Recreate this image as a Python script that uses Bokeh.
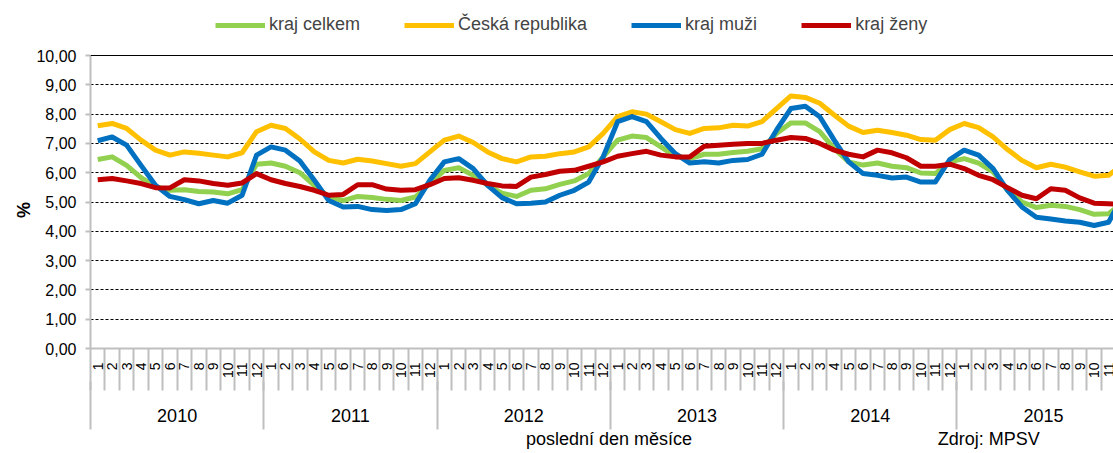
import math
from bokeh.plotting import figure
from bokeh.models import (Range1d, FixedTicker, LinearAxis, Legend, LegendItem, Span, Grid)
from bokeh.embed import file_html
from bokeh.resources import INLINE

years = ["2010", "2011", "2012", "2013", "2014", "2015"]
months = [str(m) for m in range(1, 13)]

ceska_republika = [
    7.60, 7.68, 7.51, 7.11, 6.77, 6.60, 6.71, 6.66, 6.60, 6.54, 6.68, 7.40,
    7.62, 7.51, 7.15, 6.71, 6.42, 6.33, 6.46, 6.40, 6.31, 6.22, 6.31, 6.71,
    7.11, 7.25, 7.03, 6.71, 6.48, 6.37, 6.54, 6.56, 6.65, 6.71, 6.88, 7.34,
    7.91, 8.08, 8.00, 7.74, 7.47, 7.34, 7.51, 7.53, 7.62, 7.59, 7.74, 8.19,
    8.62, 8.57, 8.37, 7.97, 7.59, 7.37, 7.45, 7.37, 7.28, 7.13, 7.11, 7.47,
    7.68, 7.54, 7.22, 6.79, 6.42, 6.17, 6.29, 6.19, 6.03, 5.88, 5.91, 6.30,
]
kraj_muzi = [
    7.09, 7.22, 6.94, 6.25, 5.57, 5.19, 5.08, 4.94, 5.05, 4.96, 5.23, 6.60,
    6.88, 6.77, 6.40, 5.74, 5.05, 4.83, 4.85, 4.74, 4.71, 4.74, 4.94, 5.74,
    6.37, 6.48, 6.14, 5.57, 5.15, 4.94, 4.96, 5.00, 5.23, 5.40, 5.68, 6.54,
    7.74, 7.91, 7.74, 7.17, 6.65, 6.33, 6.37, 6.33, 6.42, 6.45, 6.63, 7.45,
    8.19, 8.27, 7.91, 7.11, 6.37, 5.97, 5.91, 5.82, 5.85, 5.68, 5.68, 6.45,
    6.77, 6.60, 6.14, 5.40, 4.83, 4.48, 4.42, 4.35, 4.31, 4.20, 4.31, 5.20,
]
kraj_celkem = [
    6.45, 6.54, 6.25, 5.83, 5.51, 5.40, 5.42, 5.36, 5.34, 5.28, 5.42, 6.29,
    6.33, 6.22, 6.00, 5.57, 5.17, 5.05, 5.19, 5.15, 5.09, 5.05, 5.17, 5.63,
    6.08, 6.17, 5.91, 5.57, 5.30, 5.19, 5.40, 5.45, 5.60, 5.72, 5.97, 6.54,
    7.11, 7.25, 7.20, 6.88, 6.56, 6.48, 6.63, 6.63, 6.69, 6.73, 6.82, 7.34,
    7.70, 7.70, 7.40, 6.82, 6.37, 6.26, 6.33, 6.22, 6.17, 5.99, 5.97, 6.37,
    6.48, 6.33, 6.03, 5.40, 5.00, 4.81, 4.89, 4.85, 4.74, 4.58, 4.60, 5.00,
]
kraj_zeny = [
    5.76, 5.80, 5.72, 5.63, 5.49, 5.48, 5.76, 5.72, 5.63, 5.57, 5.65, 5.97,
    5.76, 5.63, 5.53, 5.40, 5.23, 5.26, 5.59, 5.59, 5.44, 5.40, 5.42, 5.59,
    5.80, 5.83, 5.74, 5.63, 5.55, 5.53, 5.85, 5.94, 6.05, 6.08, 6.22, 6.37,
    6.56, 6.65, 6.73, 6.60, 6.54, 6.54, 6.90, 6.94, 6.97, 7.00, 7.00, 7.11,
    7.20, 7.17, 7.00, 6.77, 6.63, 6.54, 6.77, 6.68, 6.51, 6.22, 6.22, 6.29,
    6.14, 5.91, 5.76, 5.49, 5.23, 5.11, 5.45, 5.40, 5.14, 4.96, 4.94, 4.92,
]

y_ticks = list(range(0, 11))
y_tick_labels = [f"{v},00" for v in y_ticks]
y_title = "%"

series_names = ["kraj celkem", "Česká republika", "kraj muži", "kraj ženy"]
series_values = [kraj_celkem, ceska_republika, kraj_muzi, kraj_zeny]
series_colors = ["#92D050", "#FFC000", "#0070C0", "#C00000"]

x_title = "poslední den měsíce"
source_note = "Zdroj: MPSV"

FONT = "Liberation Sans"
GRAY = "#bfbfbf"

n = len(years) * len(months)
xs = [i + 0.5 for i in range(n)]

PX_PER_UNIT = 29.3
FRAME_H = 336
p = figure(frame_width=1023, frame_height=FRAME_H,
           x_range=Range1d(0, 70.84), y_range=Range1d(0, FRAME_H / PX_PER_UNIT),
           x_axis_type=None, y_axis_type=None,
           output_backend="svg", toolbar_location=None,
           min_border_left=82, min_border_top=12, min_border_right=0, min_border_bottom=10)
p.outline_line_color = None
p.background_fill_color = "white"
p.border_fill_color = "white"

# y axis
yaxis = LinearAxis(ticker=FixedTicker(ticks=y_ticks), bounds=(y_ticks[0], y_ticks[-1]),
                   major_label_overrides={v: l for v, l in zip(y_ticks, y_tick_labels)})
yaxis.axis_line_color = GRAY
yaxis.axis_line_width = 2
yaxis.major_tick_line_color = GRAY
yaxis.major_tick_line_width = 2
yaxis.major_tick_out = 5
yaxis.major_tick_in = 0
yaxis.minor_tick_line_color = None
yaxis.minor_tick_out = 0
yaxis.major_label_standoff = 9
yaxis.major_label_text_font = FONT
yaxis.major_label_text_font_size = "16px"
yaxis.major_label_text_color = "black"
p.add_layout(yaxis, "left")

# "%" title centred on the 0..10 span
mid = (y_ticks[0] + y_ticks[-1]) / 2
pct_axis = LinearAxis(ticker=FixedTicker(ticks=[mid]), major_label_overrides={mid: y_title})
pct_axis.axis_line_color = None
pct_axis.major_tick_line_color = None
pct_axis.minor_tick_line_color = None
pct_axis.major_tick_out = 0
pct_axis.major_tick_in = 0
pct_axis.minor_tick_out = 0
pct_axis.major_label_orientation = math.pi / 2
pct_axis.major_label_standoff = 10
pct_axis.major_label_text_font = FONT
pct_axis.major_label_text_font_size = "18px"
pct_axis.major_label_text_font_style = "bold"
pct_axis.major_label_text_color = "black"
p.add_layout(pct_axis, "left")

grid = Grid(dimension=1, ticker=FixedTicker(ticks=y_ticks[1:-1]),
            grid_line_color="black", grid_line_dash="3 2", grid_line_width=1)
p.add_layout(grid)
p.add_layout(Span(location=y_ticks[-1], dimension="width", line_color="black", line_width=1))

# month axis (labels at category centres, separators as minor ticks)
boundaries = list(range(0, n + 1))
month_axis = LinearAxis(ticker=FixedTicker(ticks=xs, minor_ticks=boundaries),
                        major_label_overrides={x: months[i % 12] for i, x in enumerate(xs)})
month_axis.axis_line_color = GRAY
month_axis.axis_line_width = 2
month_axis.major_tick_line_color = None
month_axis.major_tick_out = 0
month_axis.major_tick_in = 0
month_axis.minor_tick_line_color = GRAY
month_axis.minor_tick_line_width = 2
month_axis.minor_tick_out = 42
month_axis.minor_tick_in = 0
month_axis.major_label_orientation = math.pi / 2
month_axis.major_label_standoff = -28
month_axis.major_label_text_font = FONT
month_axis.major_label_text_font_size = "14px"
month_axis.major_label_text_color = "black"
p.add_layout(month_axis, "below")

# year axis
year_centers = [12 * k + 6 for k in range(len(years))]
year_bounds = [12 * k for k in range(len(years) + 1)]
year_axis = LinearAxis(ticker=FixedTicker(ticks=year_centers, minor_ticks=year_bounds),
                       major_label_overrides={c: y for c, y in zip(year_centers, years)})
year_axis.axis_line_color = None
year_axis.major_tick_line_color = None
year_axis.major_tick_out = 0
year_axis.major_tick_in = 0
year_axis.minor_tick_line_color = GRAY
year_axis.minor_tick_line_width = 2
year_axis.minor_tick_out = 48
year_axis.minor_tick_in = 0
year_axis.major_label_standoff = -21
year_axis.major_label_text_font = FONT
year_axis.major_label_text_font_size = "18px"
year_axis.major_label_text_color = "black"
p.add_layout(year_axis, "below")

# bottom texts: axis title and source note on one row
title_x = 35.9
note_x = 62.2
text_axis = LinearAxis(ticker=FixedTicker(ticks=[title_x, note_x]),
                       major_label_overrides={title_x: x_title, note_x: source_note})
text_axis.axis_line_color = None
text_axis.major_tick_line_color = None
text_axis.minor_tick_line_color = None
text_axis.major_tick_out = 0
text_axis.major_tick_in = 0
text_axis.minor_tick_out = 0
text_axis.major_label_standoff = 4
text_axis.major_label_text_font = FONT
text_axis.major_label_text_font_size = "18px"
text_axis.major_label_text_color = "black"
p.add_layout(text_axis, "below")

renderers = []
for name, vals, col in zip(series_names, series_values, series_colors):
    r = p.line(xs, vals, line_color=col, line_width=5, line_join="round")
    renderers.append((name, r))

legend = Legend(items=[LegendItem(label=nm, renderers=[r]) for nm, r in renderers],
                orientation="horizontal", location=(125, FRAME_H - 23))
legend.padding = 0
legend.margin = 0
legend.border_line_color = None
legend.background_fill_alpha = 0
legend.glyph_width = 50
legend.glyph_height = 20
legend.label_standoff = 4
legend.spacing = 44
legend.label_text_font = FONT
legend.label_text_font_size = "18px"
legend.label_height = 20
p.add_layout(legend)

open("out.html", "w").write(file_html(p, INLINE))
